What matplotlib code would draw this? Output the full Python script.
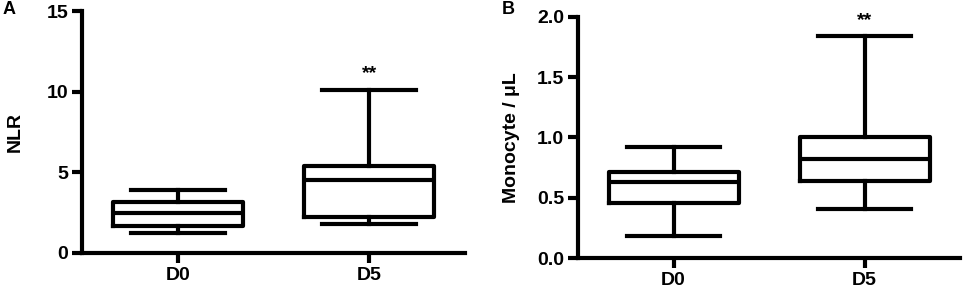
import matplotlib
matplotlib.use("Agg")
import matplotlib.pyplot as plt

plt.rcParams['font.family'] = ['Liberation Sans', 'DejaVu Sans']
plt.rcParams['font.weight'] = 'bold'

groups = ['D0', 'D5']

# NLR (panel A): whisker low, Q1, median, Q3, whisker high
nlr_low = [1.22, 1.8]
nlr_q1 = [1.67, 2.23]
nlr_med = [2.47, 4.53]
nlr_q3 = [3.15, 5.4]
nlr_high = [3.9, 10.1]

# Monocyte / uL (panel B)
mono_low = [0.18, 0.41]
mono_q1 = [0.46, 0.64]
mono_med = [0.63, 0.82]
mono_q3 = [0.71, 1.0]
mono_high = [0.92, 1.84]

FS = 14


def make_stats(low, q1, med, q3, high):
    stats = []
    for i in range(len(groups)):
        stats.append({'whislo': low[i], 'q1': q1[i], 'med': med[i],
                      'q3': q3[i], 'whishi': high[i], 'fliers': [],
                      'label': groups[i]})
    return stats


def draw_panel(ax, stats, ylim, yticks, yticklabels, ylabel, star_y, pad):
    lw = 3
    props = dict(color='black', linewidth=lw)
    ax.bxp(stats, positions=[0, 1], widths=0.68, showfliers=False,
           boxprops=props, whiskerprops=props, capprops=props,
           medianprops=props, capwidths=0.49)
    ax.set_xlim(-0.5, 1.5)
    ax.set_ylim(*ylim)
    ax.set_yticks(yticks)
    ax.set_yticklabels(yticklabels, fontsize=FS, fontweight='bold')
    ax.set_xticks([0, 1])
    ax.set_xticklabels(groups, fontsize=FS, fontweight='bold')
    ax.set_ylabel(ylabel, fontsize=FS, fontweight='bold', labelpad=pad)
    for s in ['top', 'right']:
        ax.spines[s].set_visible(False)
    for s in ['left', 'bottom']:
        ax.spines[s].set_linewidth(lw)
    ax.tick_params(axis='both', width=lw, length=7, pad=3)
    ax.text(1, star_y, '**', ha='center', va='center', fontsize=FS,
            fontweight='bold')
    ax.patch.set_alpha(0)


fig = plt.figure(figsize=(9.65, 2.91), dpi=100)
ax1 = fig.add_axes([0.085, 0.131, 0.397, 0.831])
ax2 = fig.add_axes([0.599, 0.113, 0.396, 0.829])

draw_panel(ax1, make_stats(nlr_low, nlr_q1, nlr_med, nlr_q3, nlr_high),
           (0, 15), [0, 5, 10, 15], ['0', '5', '10', '15'], 'NLR', 11.1, 16)
draw_panel(ax2, make_stats(mono_low, mono_q1, mono_med, mono_q3, mono_high),
           (0, 2.0), [0.0, 0.5, 1.0, 1.5, 2.0],
           ['0.0', '0.5', '1.0', '1.5', '2.0'], 'Monocyte / \u03bcL', 1.97, 12)

fig.text(0.003, 0.995, 'A', fontsize=13, fontweight='bold', ha='left', va='top')
fig.text(0.52, 0.997, 'B', fontsize=13, fontweight='bold', ha='left', va='top')

fig.savefig('out.png', dpi=100)
